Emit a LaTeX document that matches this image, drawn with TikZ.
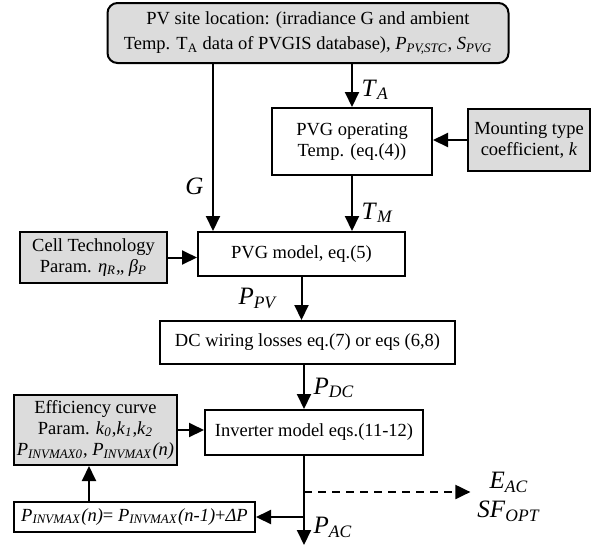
\documentclass[tikz,border=0pt]{standalone}
\usepackage{fontspec}
\setmainfont{Liberation Serif}
\usetikzlibrary{arrows.meta, calc}
\definecolor{parambg}{HTML}{DCDCDC}
\newcommand{\sym}[2]{\textit{#1}\textsubscript{\textit{#2}}}

\begin{document}
\begin{tikzpicture}[
    x=0.5pt, y=-0.5pt,
    >={Triangle[length=7.5pt, width=7pt]},
    font=\fontsize{9.25}{10.6}\selectfont,
    block/.style={draw, line width=1pt, align=center, inner sep=0pt},
    param/.style={block, fill=parambg},
    flow/.style={->, line width=1pt},
    lab/.style={font=\fontsize{12.5}{14.5}\selectfont},
]
% picture laid out in pixels of the 606x548 frame, y downwards
\useasboundingbox (0,0) rectangle (606,548);

% blocks
\node[param, rounded corners=5pt, minimum width=200.5pt, minimum height=30pt] (site) at (308,33)
    {PV site location: (irradiance G and ambient\\[2pt]
     Temp. T\textsubscript{A} data of PVGIS database), \sym{P}{PV,STC}, \sym{S}{PVG}};
\node[block, minimum width=80pt, minimum height=33.5pt] (optemp) at (352,141.5)
    {PVG operating\\ Temp. (eq.(4))};
\node[param, minimum width=61pt, minimum height=31pt] (mount) at (529,140)
    {Mounting type\\ coefficient, \textit{k}};
\node[block, minimum width=103.5pt, minimum height=22pt] (pvg) at (301.5,254)
    {PVG model, eq.(5)};
\node[param, minimum width=73.5pt, minimum height=25.5pt] (cell) at (93.5,257.5)
    {Cell Technology\\ Param. \sym{η}{R},, \sym{β}{P}};
\node[block, minimum width=147.5pt, minimum height=21.5pt] (dc) at (307.5,342.5)
    {DC wiring losses eq.(7) or eqs (6,8)};
\node[block, minimum width=109pt, minimum height=22.5pt] (inv) at (314,432.5)
    {Inverter model eqs.(11-12)};
\node[param, minimum width=81.5pt, minimum height=35pt] (eff) at (95.5,430)
    {Efficiency curve\\ Param. \sym{k}{0},\sym{k}{1},\sym{k}{2}\\
     \sym{P}{INVMAX0}, \sym{P}{INVMAX}\textit{(n)}};
\node[block, minimum width=120.5pt, minimum height=15pt] (upd) at (134.5,517)
    {\sym{P}{INVMAX}\textit{(n)}= \sym{P}{INVMAX}\textit{(n-1)}+\textit{ΔP}};
\node[lab, align=center] (out) at (509,497) {\sym{E}{AC}\\ \sym{SF}{OPT}};

% helper points on the vertical runs
\coordinate (gline) at (213,0);
\coordinate (acline) at (304,0);
\coordinate (upline) at (89,0);
\coordinate (split) at (304,492);
\coordinate (fb) at (304,517);
\coordinate (acend) at (304,545);

% connectors
\draw[flow] (site.south -| gline) -- node[lab, left=1pt, pos=0.73] {\textit{G}} (pvg.north -| gline);
\draw[flow] (optemp.north |- site.south) -- node[lab, right=1pt, pos=0.6] {\sym{T}{A}} (optemp.north);
\draw[flow] (mount.west) -- (mount.west -| optemp.east);
\draw[flow] (optemp.south) -- node[lab, right=1pt, pos=0.67] {\sym{T}{M}} (pvg.north -| optemp.south);
\draw[flow] (cell.east) -- (cell.east -| pvg.west);
\draw[flow] (pvg.south) -- node[lab, left=8pt, pos=0.5] {\sym{P}{PV}} (dc.north -| pvg.south);
\draw[flow] (dc.south -| acline) -- node[lab, right=1pt, pos=0.52] {\sym{P}{DC}} (inv.north -| acline);
\draw[flow] (eff.east) -- (eff.east -| inv.west);
\draw[flow] (inv.south -| acline) -- node[lab, right=1pt, pos=0.8] {\sym{P}{AC}} (acend);
\draw[flow, dash pattern=on 4pt off 3pt] (split) -- (split -| out.west);
\draw[flow] (fb) -- (fb -| upd.east);
\draw[flow] (upd.north -| upline) -- (eff.south -| upline);

\end{tikzpicture}
\end{document}
